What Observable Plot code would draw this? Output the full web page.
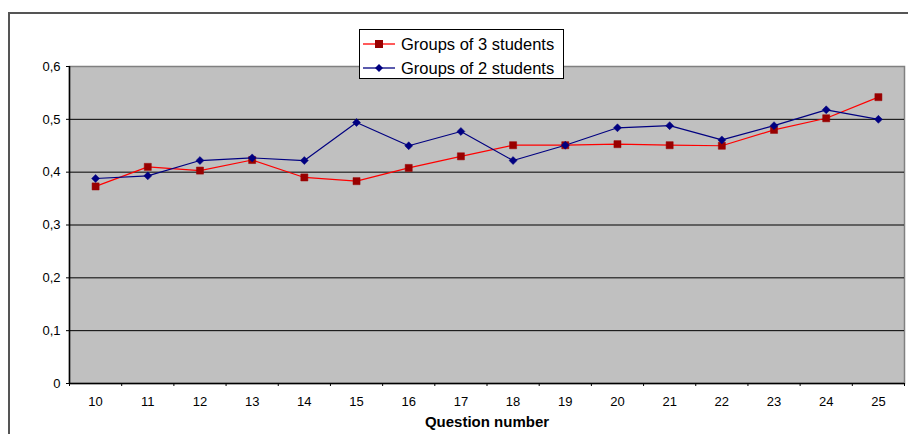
<!DOCTYPE html>
<html>
<head>
<meta charset="utf-8">
<script src="https://cdn.jsdelivr.net/npm/d3@7"></script>
<script src="https://cdn.jsdelivr.net/npm/@observablehq/plot@0.6"></script>
<style>
  html, body { margin: 0; padding: 0; background: #fff; overflow: hidden; }
  #wrap { position: relative; width: 908px; height: 434px; overflow: hidden; font-family: "Liberation Sans", Arial, sans-serif; }
  #outer { position: absolute; left: 8px; top: 12px; width: 1200px; height: 1200px; border: 2px solid #555; box-sizing: border-box; }
  #chart { position: absolute; left: 0; top: 0; }
  #legend { position: absolute; left: 359px; top: 29px; width: 205px; height: 50px; box-sizing: border-box;
            border: 1px solid #000; background: #fff; font-size: 16.5px; color: #000; }
  .row { position: absolute; left: 0; height: 20px; display: flex; align-items: center; }
  .row svg { margin-left: 3px; margin-right: 6px; }
</style>
</head>
<body>
<div id="wrap">
  <div id="outer"></div>
  <div id="chart"></div>
  <div id="legend"></div>
</div>
<script>
const questions = [10, 11, 12, 13, 14, 15, 16, 17, 18, 19, 20, 21, 22, 23, 24, 25];
const groups3 = [0.373, 0.410, 0.403, 0.423, 0.390, 0.383, 0.408, 0.430, 0.451, 0.451, 0.453, 0.451, 0.450, 0.480, 0.502, 0.542];
const groups2 = [0.388, 0.393, 0.422, 0.427, 0.422, 0.494, 0.450, 0.477, 0.422, 0.451, 0.484, 0.488, 0.461, 0.488, 0.518, 0.500];
const yTicks = [0, 0.1, 0.2, 0.3, 0.4, 0.5, 0.6];
const seriesNames = ["Groups of 3 students", "Groups of 2 students"];
const lineColors = ["#ff0000", "#000080"];
const markColors = ["#990000", "#000080"];

const data = [
  ...questions.map((q, i) => ({q, v: groups3[i], s: seriesNames[0]})),
  ...questions.map((q, i) => ({q, v: groups2[i], s: seriesNames[1]}))
];
const boundaries = [...questions.map(q => q - 0.5), questions[questions.length - 1] + 0.5];
const s3 = data.filter(d => d.s === seriesNames[0]);
const s2 = data.filter(d => d.s === seriesNames[1]);

const chart = Plot.plot({
  width: 908,
  height: 434,
  marginLeft: 69,
  marginRight: 4,
  marginTop: 66,
  marginBottom: 51,
  x: {domain: [boundaries[0], boundaries[boundaries.length - 1]]},
  y: {domain: [0, 0.6]},
  style: {fontFamily: "'Liberation Sans', Arial, sans-serif", fontSize: "13px", background: "transparent", color: "#000"},
  marks: [
    Plot.frame({fill: "#c0c0c0", stroke: "#808080", strokeWidth: 1.5}),
    Plot.ruleY(yTicks.slice(1, -1), {stroke: "#000", strokeWidth: 1}),
    Plot.ruleX([boundaries[0]], {stroke: "#000", strokeWidth: 1.5}),
    Plot.ruleY([0], {stroke: "#000", strokeWidth: 1.5}),
    Plot.axisY({ticks: yTicks, tickSize: 3, tickPadding: 6, label: null,
      tickFormat: d => d === 0 ? "0" : d3.format(".1f")(d).replace(".", ",")}),
    Plot.axisX({ticks: boundaries, tickSize: 3, tickFormat: () => "", label: null}),
    Plot.axisX({ticks: questions, tickSize: 0, tickPadding: 13, label: null, tickFormat: d => String(d)}),
    Plot.text(["Question number"], {frameAnchor: "bottom", lineAnchor: "middle", dy: 39, fontWeight: "bold", fontSize: 15}),
    Plot.line(s3, {x: "q", y: "v", stroke: lineColors[0], strokeWidth: 1.2}),
    Plot.line(s2, {x: "q", y: "v", stroke: lineColors[1], strokeWidth: 1.2}),
    Plot.dot(s3, {x: "q", y: "v", symbol: "square", r: 4, fill: markColors[0], stroke: markColors[0], strokeWidth: 0.5}),
    Plot.dot(s2, {x: "q", y: "v", symbol: "diamond2", r: 3.6, fill: markColors[1], stroke: markColors[1], strokeWidth: 0.5})
  ]
});
document.getElementById("chart").appendChild(chart);

// Legend
const legend = document.getElementById("legend");
const symbols = ["square", "diamond"];
seriesNames.forEach((name, i) => {
  const row = document.createElement("div");
  row.className = "row";
  row.style.top = (i === 0 ? 4 : 28) + "px";
  const marker = symbols[i] === "square"
    ? `<rect x="12" y="6" width="8" height="8" fill="${markColors[i]}"/>`
    : `<path d="M16 6 L20 10 L16 14 L12 10 Z" fill="${markColors[i]}"/>`;
  row.innerHTML = `<svg width="32" height="20"><line x1="0" y1="10" x2="32" y2="10" stroke="${lineColors[i]}" stroke-width="1.3"/>${marker}</svg><span>${name}</span>`;
  legend.appendChild(row);
});
</script>
</body>
</html>
